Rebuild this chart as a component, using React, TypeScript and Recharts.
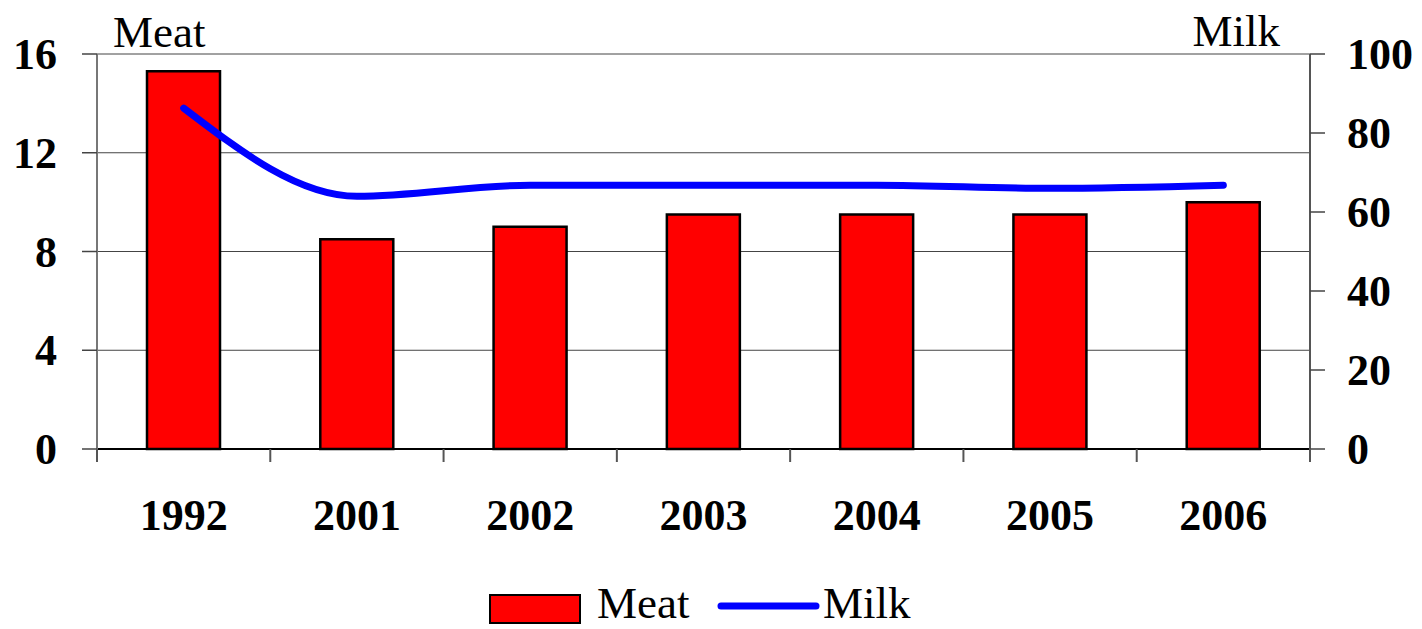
import React from 'react';
import { ComposedChart, Bar, Line, XAxis, YAxis, CartesianGrid, Legend } from 'recharts';

const years = ['1992', '2001', '2002', '2003', '2004', '2005', '2006'];
const meat = [15.3, 8.5, 9.0, 9.5, 9.5, 9.5, 10.0];
const milk = [86.3, 64.0, 66.8, 66.8, 66.8, 66.0, 66.8];
const meatTicks = [0, 4, 8, 12, 16];
const milkTicks = [0, 20, 40, 60, 80, 100];

const data = years.map((year, i) => ({ year, meat: meat[i], milk: milk[i] }));

const FONT = '"Liberation Serif", "Times New Roman", serif';
const W = 1422;
const H = 629;

// category ticks: label in the middle, tick marks on the band edges
const YearTick = (props: any) => {
  const { x, y, payload, index } = props;
  const half = payload.offset ?? 86.6;
  return (
    <g>
      <line x1={x - half} x2={x - half} y1={y} y2={y + 13} stroke="#555" strokeWidth={2} />
      {index === years.length - 1 && (
        <line x1={x + half} x2={x + half} y1={y} y2={y + 13} stroke="#555" strokeWidth={2} />
      )}
      <text x={x} y={y + 81} textAnchor="middle" fontFamily={FONT} fontSize={44} fontWeight="bold" fill="#000">
        {payload.value}
      </text>
    </g>
  );
};

const ValueTick = (props: any) => {
  const { x, y, payload, textAnchor } = props;
  return (
    <text x={x} y={y + 15} textAnchor={textAnchor} fontFamily={FONT} fontSize={44} fontWeight="bold" fill="#000">
      {payload.value}
    </text>
  );
};

const LegendBox = () => (
  <svg width={W} height={40} style={{ overflow: 'visible', display: 'block' }}>
    <rect x={490} y={6} width={90} height={28} fill="#ff0000" stroke="#000" strokeWidth={2} />
    <text x={597} y={29} fontFamily={FONT} fontSize={45} fill="#000">Meat</text>
    <line x1={721} x2={816} y1={17} y2={17} stroke="#0000ff" strokeWidth={7} strokeLinecap="round" />
    <text x={823} y={29} fontFamily={FONT} fontSize={45} fill="#000">Milk</text>
  </svg>
);

export default function App() {
  return (
    <div style={{ width: W, height: H, background: '#fff' }}>
      <style>{'body{margin:0}'}</style>
      <ComposedChart width={W} height={H} data={data} margin={{ top: 54, right: 0, bottom: 0, left: 0 }}>
        <CartesianGrid horizontal vertical={false} stroke="#444" strokeWidth={1} yAxisId="meat" />
        <XAxis
          dataKey="year"
          height={140}
          tickSize={0}
          tickMargin={0}
          tick={<YearTick />}
          interval={0}
          axisLine={{ stroke: '#000', strokeWidth: 2 }}
        />
        <YAxis
          yAxisId="meat"
          width={97}
          domain={[0, 16]}
          ticks={meatTicks}
          tickSize={15}
          tickMargin={25}
          tick={<ValueTick />}
          tickLine={{ stroke: '#444', strokeWidth: 1.5 }}
          axisLine={{ stroke: '#777', strokeWidth: 2 }}
          label={{
            content: (p: any) => (
              <text x={p.viewBox.x + p.viewBox.width + 16} y={p.viewBox.y - 7} fontFamily={FONT} fontSize={45} fill="#000">
                Meat
              </text>
            ),
          }}
        />
        <YAxis
          yAxisId="milk"
          orientation="right"
          width={112}
          domain={[0, 100]}
          ticks={milkTicks}
          tickSize={15}
          tickMargin={22}
          tick={<ValueTick />}
          tickLine={{ stroke: '#444', strokeWidth: 1.5 }}
          axisLine={{ stroke: '#555', strokeWidth: 2 }}
          label={{
            content: (p: any) => (
              <text x={p.viewBox.x - 30} y={p.viewBox.y - 8} textAnchor="end" fontFamily={FONT} fontSize={45} fill="#000">
                Milk
              </text>
            ),
          }}
        />
        <Legend verticalAlign="bottom" height={40} content={<LegendBox />} />
        <Bar
          yAxisId="meat"
          dataKey="meat"
          name="Meat"
          fill="#ff0000"
          stroke="#000"
          strokeWidth={2.5}
          barSize={73}
          isAnimationActive={false}
        />
        <Line
          yAxisId="milk"
          dataKey="milk"
          name="Milk"
          type="monotone"
          stroke="#0000ff"
          strokeWidth={7}
          strokeLinecap="round"
          dot={false}
          activeDot={false}
          isAnimationActive={false}
        />
      </ComposedChart>
    </div>
  );
}
